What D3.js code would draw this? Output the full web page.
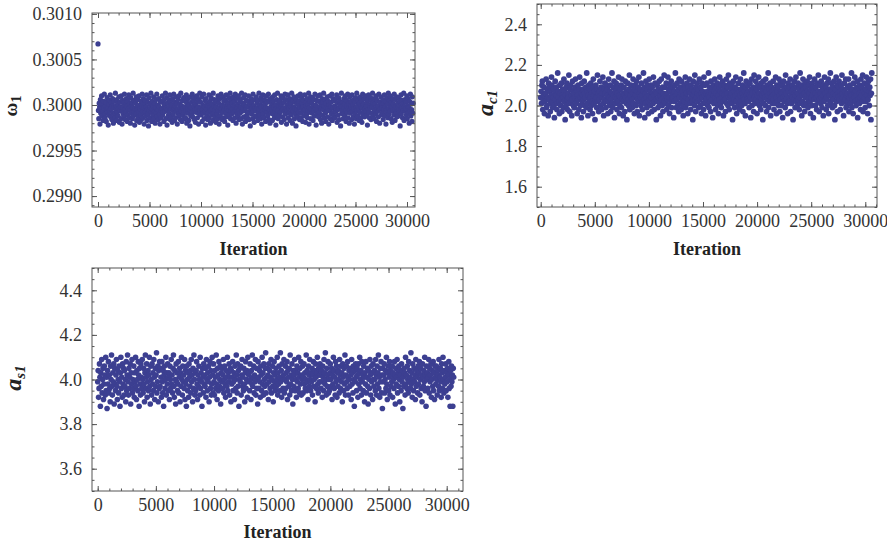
<!DOCTYPE html>
<html>
<head>
<meta charset="utf-8">
<script src="https://cdn.jsdelivr.net/npm/d3@7"></script>
<style>
  body { margin: 0; background: #fff; }
  svg { display: block; font-family: "Liberation Serif", "Times New Roman", serif; }
</style>
</head>
<body>
<svg id="chart" width="887" height="544"></svg>
<script>
// MCMC trace samples (thinned, evenly spaced in iteration)
const omega1 = [
  0.30067,0.29994,0.29985,0.30002,0.29998,0.29979,0.30006,0.29991,0.29996,0.30010,0.29988,0.30001,0.29993,0.29983,0.30004,0.29997,0.30012,0.29990,0.29986,0.29999,
  0.30003,0.29982,0.29995,0.30008,0.29992,0.29997,0.29978,0.30001,0.29989,0.30005,0.29994,0.30011,0.29987,0.29996,0.30002,0.29984,0.29999,0.30007,0.29991,0.29980,
  0.29997,0.30004,0.29990,0.29986,0.30013,0.29995,0.29999,0.29983,0.30006,0.29992,0.30001,0.29988,0.29996,0.30009,0.29981,0.29994,0.30003,0.29998,0.29985,0.30010,
  0.29993,0.29979,0.30005,0.29997,0.29990,0.30002,0.29987,0.30012,0.29995,0.29984,0.30000,0.29992,0.30007,0.29998,0.29982,0.30004,0.29989,0.29996,0.30011,0.29986,
  0.30001,0.29994,0.29980,0.30008,0.29991,0.29999,0.30003,0.29985,0.29997,0.30013,0.29988,0.29993,0.30005,0.29978,0.29996,0.30002,0.29990,0.30009,0.29983,0.29998,
  0.29995,0.30006,0.29987,0.29992,0.30010,0.29981,0.30000,0.29996,0.29989,0.30004,0.29984,0.29999,0.30012,0.29993,0.29986,0.30007,0.29997,0.29979,0.30002,0.29991,
  0.30005,0.29988,0.29998,0.30011,0.29983,0.29995,0.30003,0.29990,0.29977,0.30008,0.29994,0.30001,0.29986,0.29997,0.30013,0.29992,0.29982,0.30004,0.29996,0.29989,
  0.29999,0.30009,0.29985,0.29993,0.30002,0.29980,0.29997,0.30006,0.29991,0.30012,0.29987,0.29995,0.30000,0.29984,0.30007,0.29998,0.29990,0.29979,0.30004,0.29994,
  0.29986,0.30003,0.29996,0.30010,0.29989,0.29992,0.30005,0.29982,0.29999,0.30001,0.29993,0.30013,0.29985,0.29997,0.30008,0.29978,0.29995,0.30002,0.29988,0.30006,
  0.29991,0.29998,0.30011,0.29984,0.30004,0.29996,0.29987,0.30000,0.29981,0.30007,0.29994,0.29990,0.30012,0.29997,0.29983,0.30003,0.29999,0.29986,0.30009,0.29993,
  0.30002,0.29979,0.29995,0.30006,0.29990,0.30010,0.29988,0.29997,0.30001,0.29984,0.30013,0.29993,0.29999,0.29982,0.30005,0.29996,0.29989,0.30008,0.29992,0.29985,
  0.29998,0.30004,0.29986,0.29994,0.30011,0.29980,0.30002,0.29991,0.29996,0.30007,0.29983,0.30000,0.29995,0.29977,0.30009,0.29988,0.29997,0.30003,0.29990,0.30012,
  0.29987,0.29993,0.30005,0.29999,0.29984,0.30008,0.29995,0.29981,0.30001,0.29992,0.30010,0.29996,0.29986,0.30004,0.29998,0.29979,0.30006,0.29990,0.30013,0.29994,
  0.30003,0.29989,0.29997,0.30009,0.29982,0.29995,0.30000,0.29991,0.30012,0.29985,0.29998,0.30005,0.29993,0.29978,0.30007,0.29996,0.29988,0.30002,0.29984,0.29999,
  0.29992,0.30011,0.29986,0.29997,0.30004,0.29980,0.29994,0.30008,0.29989,0.30001,0.29996,0.29983,0.30013,0.29991,0.29999,0.30006,0.29987,0.29995,0.30003,0.29981,
  0.29998,0.30005,0.29990,0.29985,0.30010,0.29994,0.30002,0.29979,0.29997,0.30007,0.29988,0.29993,0.30012,0.29996,0.29984,0.30000,0.29992,0.30009,0.29986,0.30004,
  0.29995,0.29982,0.30006,0.29999,0.29991,0.30011,0.29987,0.29996,0.30003,0.29978,0.30001,0.29994,0.30008,0.29989,0.29998,0.30013,0.29985,0.29993,0.30005,0.29990,
  0.30002,0.29996,0.29983,0.30009,0.29992,0.29999,0.30004,0.29986,0.30012,0.29995,0.29980,0.30007,0.29997,0.29990,0.30001,0.29988,0.30010,0.29994,0.29984,0.30003,
  0.29991,0.30006,0.29998,0.29985,0.30013,0.29993,0.29979,0.30002,0.29996,0.30008,0.29987,0.30000,0.29994,0.30011,0.29982,0.29997,0.30005,0.29989,0.29999,0.29986,
  0.30004,0.29992,0.30010,0.29984,0.29998,0.30001,0.29977,0.29995,0.30007,0.29990,0.30003,0.29997,0.29985,0.30012,0.29993,0.29999,0.29981,0.30006,0.29996,0.29988,
  0.29994,0.30009,0.29987,0.30002,0.29997,0.29983,0.30005,0.29991,0.30013,0.29996,0.29989,0.30000,0.29985,0.30008,0.29998,0.29979,0.30004,0.29993,0.30011,0.29990,
  0.29999,0.29986,0.30006,0.29995,0.30001,0.29982,0.29997,0.30010,0.29992,0.30003,0.29988,0.29996,0.30012,0.29984,0.30005,0.29994,0.29980,0.30007,0.29998,0.29991,
  0.30002,0.29995,0.29983,0.30009,0.29990,0.30004,0.29997,0.29986,0.30011,0.29993,0.30000,0.29978,0.29996,0.30006,0.29989,0.30013,0.29994,0.29985,0.30003,0.29999,
  0.29988,0.30005,0.29992,0.29998,0.30010,0.29981,0.30001,0.29995,0.29987,0.30008,0.29996,0.30003,0.29984,0.29993,0.30012,0.29990,0.29997,0.30006,0.29979,0.30000,
  0.29994,0.30011,0.29986,0.30004,0.29997,0.29991,0.30007,0.29983,0.29999,0.30002,0.29989,0.30013,0.29995,0.29980,0.30005,0.29993,0.29998,0.30009,0.29985,0.29996,
  0.30003,0.29990,0.29977,0.30006,0.29995,0.30001,0.29987,0.30010,0.29992,0.29999,0.30004,0.29984,0.29997,0.30012,0.29991,0.29986,0.30008,0.29996,0.30002,0.29982,
  0.29998,0.30005,0.29993,0.29988,0.30011,0.29995,0.29981,0.30003,0.29999,0.29990,0.30007,0.29986,0.30001,0.29994,0.30013,0.29979,0.29997,0.30004,0.29992,0.30009,
  0.29985,0.29996,0.30002,0.29991,0.30008,0.29983,0.29999,0.30006,0.29994,0.29988,0.30012,0.29997,0.30000,0.29978,0.30005,0.29993,0.29990,0.30010,0.29995,0.29987,
  0.30004,0.29992,0.29998,0.30011,0.29984,0.30001,0.29996,0.29980,0.30007,0.29989,0.30003,0.29995,0.30013,0.29986,0.29999,0.30006,0.29991,0.29982,0.30002,0.29997,
  0.29993,0.30009,0.29987,0.29996,0.30004,0.29979,0.30000,0.29994,0.30010,0.29985,0.29998,0.30003,0.29990,0.30012,0.29983,0.29997,0.30007,0.29992,0.29988,0.30005,
  0.29999,0.29986,0.30006,0.29993,0.29997,0.30011,0.29981,0.30002,0.29995,0.29989,0.30008,0.29996,0.29984,0.30004,0.30000,0.29977,0.29998,0.30013,0.29991,0.29994,
  0.30003,0.29990,0.29985,0.30007,0.29997,0.30001,0.29988,0.30010,0.29994,0.29982,0.30005,0.29999,0.29992,0.30012,0.29986,0.29996,0.30002,0.29980,0.30009,0.29995,
  0.29991,0.30004,0.29998,0.29984,0.30011,0.29993,0.30000,0.29987,0.30006,0.29996,0.29979,0.30003,0.29990,0.30008,0.29997,0.29985,0.30013,0.29994,0.29999,0.29988,
  0.30005,0.29995,0.29983,0.30002,0.29992,0.30009,0.29998,0.29986,0.30004,0.29981,0.29997,0.30012,0.29990,0.30001,0.29994,0.30007,0.29987,0.29996,0.30010,0.29993,
  0.29999,0.30003,0.29989,0.29978,0.30006,0.29995,0.30011,0.29992,0.29986,0.30000,0.29997,0.30008,0.29984,0.30004,0.29991,0.29998,0.30013,0.29988,0.30002,0.29996,
  0.29985,0.30007,0.29994,0.30001,0.29990,0.30010,0.29982,0.29997,0.30005,0.29993,0.29999,0.29987,0.30012,0.29995,0.29980,0.30003,0.29996,0.30009,0.29989,0.30000,
  0.29997,0.29991,0.30006,0.29984,0.30002,0.29995,0.30011,0.29988,0.29998,0.30004,0.29979,0.29994,0.30008,0.29992,0.30001,0.29986,0.30013,0.29996,0.29990,0.30005,
  0.29993,0.30010,0.29999,0.29985,0.30003,0.29997,0.29981,0.30007,0.29994,0.30001,0.29989,0.30012,0.29995,0.29983,0.30006,0.29998,0.29991,0.30009,0.29987,0.29996,
  0.30002,0.29988,0.29995,0.30008,0.29992,0.30004,0.29977,0.29999,0.30011,0.29990,0.29997,0.30005,0.29986,0.30001,0.29994,0.30013,0.29983,0.29998,0.30006,0.29993,
  0.29996,0.30003,0.29989,0.30010,0.29985,0.29999,0.30007,0.29992,0.29997,0.29980,0.30004,0.29994,0.30012,0.29988,0.30001,0.29995,0.29982,0.30009,0.29991,0.30002
];

const ac1 = [
  2.04,2.07,2.01,2.10,2.12,1.98,2.03,2.05,2.09,1.96,2.02,2.06,2.06,2.13,1.99,2.00,2.08,2.04,1.95,2.11,
  2.03,2.09,2.07,1.97,2.01,2.05,2.14,2.10,2.02,1.99,2.04,2.08,2.00,1.94,2.06,2.12,2.03,2.05,2.09,1.98,
  2.01,2.16,2.07,2.04,2.02,1.96,2.10,2.06,2.00,2.03,2.11,1.97,2.05,2.08,2.04,1.99,2.13,2.02,2.07,1.93,
  2.05,2.00,2.09,2.11,2.03,1.98,2.06,2.04,2.15,2.01,1.97,2.08,2.10,2.02,2.05,1.95,2.03,2.12,2.07,2.00,
  2.06,1.99,2.04,2.09,2.13,2.02,2.01,2.07,1.96,2.05,2.10,2.03,1.98,2.08,2.14,2.04,2.00,2.06,1.94,2.11,
  2.02,2.05,2.08,1.97,2.03,2.12,2.06,2.00,2.04,2.09,1.99,2.16,2.07,2.01,1.95,2.05,2.10,2.03,2.08,1.98,
  2.04,2.11,2.00,2.06,2.02,1.96,2.09,2.13,2.05,2.01,2.07,1.93,2.03,2.10,2.04,1.99,2.08,2.15,2.02,2.06,
  1.97,2.03,2.07,2.12,2.00,2.05,2.09,1.98,2.04,2.06,2.14,2.01,1.95,2.08,2.03,2.11,2.06,1.99,2.02,2.10,
  2.05,2.08,1.96,2.02,2.13,2.04,2.00,2.07,2.10,1.97,2.03,2.06,2.16,2.01,1.99,2.09,2.05,2.12,1.94,2.04,
  2.07,2.01,2.11,2.03,1.98,2.06,2.09,2.02,2.14,2.05,1.96,2.00,2.08,2.04,2.10,1.99,2.13,2.03,2.06,1.95,
  2.02,2.09,2.05,1.97,2.12,2.04,2.07,2.01,1.93,2.06,2.11,2.03,2.00,2.08,2.15,1.98,2.05,2.02,2.10,2.07,
  2.03,1.99,2.06,2.13,2.01,2.08,1.96,2.04,2.10,2.05,2.00,2.12,2.07,1.97,2.03,2.09,2.02,2.14,1.95,2.06,
  2.08,2.04,2.00,2.11,2.05,1.98,2.02,2.07,2.16,2.03,2.09,1.94,2.06,2.01,2.12,2.04,1.99,2.08,2.10,2.02,
  1.96,2.05,2.13,2.03,2.07,2.00,2.10,2.04,1.97,2.09,2.06,2.01,2.14,2.05,1.98,2.02,2.11,2.07,2.03,1.93,
  2.06,2.10,2.02,1.99,2.08,2.04,2.12,2.01,2.05,1.95,2.07,2.13,2.03,2.00,2.09,1.97,2.06,2.04,2.15,2.02,
  2.09,2.01,2.05,2.11,1.98,2.06,2.03,2.14,2.00,2.08,2.04,1.96,2.10,2.07,2.02,2.12,1.99,2.05,2.03,2.09,
  2.04,1.94,2.07,2.02,2.10,2.16,2.05,1.99,2.03,2.11,2.06,2.00,2.08,1.97,2.13,2.04,2.01,2.09,2.06,1.98,
  2.12,2.03,2.07,2.00,1.95,2.05,2.10,2.02,2.08,2.14,1.99,2.04,2.06,2.11,2.01,1.96,2.09,2.03,2.07,2.13,
  2.01,2.06,1.98,2.10,2.04,2.08,2.02,1.93,2.12,2.05,2.07,2.00,2.15,2.03,1.97,2.09,2.04,2.11,2.06,2.02,
  2.08,1.99,2.05,2.13,2.03,2.00,2.09,2.06,1.96,2.11,2.04,2.07,2.01,1.98,2.14,2.05,2.10,2.02,1.95,2.06,
  2.03,2.11,2.07,2.00,2.05,2.16,1.99,2.04,2.09,2.02,1.97,2.12,2.06,2.03,2.08,1.94,2.05,2.10,2.01,2.07,
  2.13,2.04,1.98,2.06,2.02,2.09,2.11,2.00,2.05,1.96,2.08,2.03,2.14,2.07,2.01,2.10,1.99,2.04,2.06,2.12,
  2.02,1.95,2.08,2.05,2.10,2.03,1.97,2.07,2.13,2.01,2.06,2.09,2.00,2.15,2.04,1.98,2.11,2.05,2.02,2.08,
  2.06,2.10,2.01,1.93,2.04,2.12,2.07,2.03,1.99,2.09,2.05,2.14,2.02,1.96,2.08,2.06,2.00,2.11,2.04,2.07,
  1.98,2.05,2.13,2.02,2.08,2.00,2.06,2.10,1.97,2.04,2.16,2.03,2.07,2.01,1.95,2.09,2.12,2.05,2.03,2.06,
  2.10,2.02,2.07,1.99,2.05,2.11,2.04,1.94,2.08,2.13,2.00,2.06,2.03,2.09,1.97,2.15,2.04,2.01,2.07,2.12,
  2.03,2.08,1.96,2.05,2.10,2.02,2.14,2.06,2.00,2.04,2.09,1.98,2.11,2.03,2.07,2.05,1.93,2.12,2.01,2.06,
  2.09,2.04,2.00,2.13,2.07,1.97,2.03,2.10,2.05,2.16,1.99,2.08,2.02,2.06,2.11,1.95,2.04,2.09,2.07,2.01,
  2.05,2.12,2.03,1.98,2.08,2.06,2.01,2.14,2.04,1.96,2.10,2.07,2.02,2.09,2.00,2.13,2.05,1.97,2.03,2.11,
  2.07,2.00,2.06,2.10,1.94,2.04,2.12,2.08,2.02,2.05,1.99,2.15,2.06,2.03,2.09,2.01,1.96,2.11,2.07,2.04,
  2.02,2.09,2.13,1.97,2.05,2.01,2.07,2.10,2.04,1.93,2.08,2.03,2.12,2.06,1.99,2.05,2.14,2.02,2.09,2.00,
  2.06,2.11,2.03,2.08,1.98,2.04,2.16,2.01,2.07,2.10,1.95,2.05,2.02,2.13,2.08,2.00,2.06,1.97,2.11,2.04,
  2.09,2.01,2.05,2.12,2.07,1.99,2.03,2.10,2.06,2.14,2.02,1.96,2.08,2.04,2.00,2.11,2.05,2.09,1.94,2.07,
  2.03,2.13,2.06,2.00,2.09,2.04,1.98,2.11,2.05,2.02,2.15,2.07,1.97,2.03,2.10,2.06,2.01,2.12,2.04,1.99,
  2.08,2.05,1.95,2.10,2.02,2.14,2.06,2.03,2.09,1.98,2.04,2.11,2.07,2.00,2.13,1.96,2.05,2.08,2.02,2.16,
  2.01,2.07,2.11,2.04,1.99,2.09,2.03,2.06,2.12,2.00,1.93,2.08,2.05,2.14,2.02,2.10,1.97,2.06,2.04,2.09,
  2.12,2.03,2.07,1.98,2.05,2.10,2.01,2.15,2.06,2.04,2.08,1.95,2.02,2.11,2.07,2.03,2.13,1.99,2.05,2.00,
  2.06,2.09,2.02,2.13,1.97,2.04,2.10,2.07,2.01,2.05,2.16,1.99,2.08,2.03,1.96,2.11,2.06,2.04,2.14,2.02,
  2.07,2.00,2.05,2.09,2.12,1.94,2.03,2.08,2.06,2.01,2.10,2.04,1.98,2.13,2.05,2.09,2.02,2.15,1.97,2.07,
  2.04,2.11,2.06,1.99,2.08,2.02,2.14,2.05,2.10,1.96,2.03,2.12,2.07,2.00,2.09,2.05,2.13,1.93,2.06,2.16
];

const as1 = [
  3.99,4.04,3.92,3.96,4.07,4.01,3.88,4.03,3.97,4.09,3.94,4.00,4.05,3.91,3.98,4.06,4.02,3.93,4.10,3.95,
  4.01,3.87,4.04,3.98,4.08,3.94,4.02,3.96,3.90,4.06,4.00,4.11,3.97,3.93,4.03,3.99,4.07,3.89,4.05,3.98,
  3.95,4.02,4.09,3.97,3.91,4.04,4.00,3.94,4.06,3.99,3.88,4.03,4.10,3.96,4.01,3.92,4.07,3.98,4.05,3.93,
  4.04,3.97,4.00,3.90,4.08,3.95,4.02,4.11,3.99,3.93,4.05,3.96,4.01,4.07,3.89,4.03,3.98,4.09,3.94,4.00,
  3.96,4.06,3.92,4.03,3.99,4.10,3.97,3.91,4.04,4.00,3.95,4.08,4.02,3.88,4.05,3.98,3.93,4.07,4.01,3.96,
  4.09,4.00,3.94,4.05,3.98,3.90,4.03,4.11,3.96,4.01,4.07,3.92,3.99,4.04,3.95,4.02,4.10,3.97,3.89,4.06,
  4.00,3.93,4.07,3.98,4.03,3.95,4.09,4.01,3.91,4.05,3.97,4.02,4.12,3.94,3.99,4.06,3.90,4.04,3.96,4.08,
  3.97,4.05,4.01,3.92,4.08,3.99,3.94,4.04,3.88,4.02,4.06,3.96,4.00,4.10,3.93,4.03,3.98,4.07,3.95,4.01,
  4.03,3.91,4.06,4.00,3.96,4.09,3.98,4.02,3.94,4.05,4.11,3.97,3.92,4.04,4.00,3.89,4.07,3.99,4.03,3.95,
  3.98,4.08,3.94,4.01,4.05,3.90,4.03,3.97,4.10,4.00,3.93,4.06,3.99,4.02,3.96,4.09,3.91,4.04,3.98,3.88,
  4.06,4.00,3.95,4.03,3.92,4.07,4.01,3.97,4.04,3.94,4.09,3.99,4.02,3.90,4.05,3.96,4.11,4.00,3.93,4.03,
  3.95,4.04,4.08,3.98,3.91,4.02,3.97,4.06,4.00,3.93,4.10,3.96,4.03,3.99,3.88,4.05,4.01,3.94,4.07,3.98,
  4.02,3.97,4.05,3.92,4.09,4.00,3.95,4.03,3.99,4.06,3.90,4.01,4.08,3.96,4.04,3.93,3.98,4.10,4.02,3.94,
  4.07,3.99,3.93,4.04,4.01,3.96,4.11,3.98,3.91,4.05,4.02,3.95,4.08,3.97,4.00,4.06,3.89,4.03,3.99,4.05,
  3.96,4.02,4.09,3.94,4.00,4.06,3.98,3.92,4.04,4.01,3.97,4.10,3.95,4.03,3.99,4.07,3.93,4.01,4.05,3.90,
  4.04,3.98,4.01,4.08,3.95,3.99,4.03,3.91,4.06,4.00,3.96,4.11,4.02,3.94,4.07,3.97,4.04,3.88,4.00,4.05,
  3.99,4.06,3.93,4.02,4.09,3.97,4.01,3.95,4.05,3.98,3.90,4.03,4.08,3.96,4.00,4.04,3.92,4.10,3.99,4.02,
  4.03,3.95,4.07,4.00,3.91,4.04,3.98,4.11,3.97,4.01,4.06,3.94,4.02,3.99,4.09,3.93,4.05,3.96,4.00,3.89,
  4.08,4.01,3.96,4.04,3.99,3.92,4.06,4.02,3.95,4.10,3.98,4.03,3.93,4.07,4.00,3.97,4.05,4.12,3.94,4.01,
  3.98,4.05,4.02,3.91,4.07,3.99,4.04,3.96,4.01,4.09,3.94,4.00,4.06,3.97,3.90,4.03,4.08,3.99,4.02,3.95,
  4.05,3.97,4.00,4.10,3.93,4.03,3.98,4.06,4.01,3.95,4.12,3.99,4.04,3.92,4.07,4.00,3.96,4.02,4.09,3.94,
  4.00,4.06,3.96,4.03,3.99,4.08,3.91,4.04,4.01,3.97,4.05,3.93,4.11,3.98,4.02,3.95,4.07,4.00,3.89,4.04,
  3.97,4.02,4.09,3.95,4.04,4.00,3.92,4.06,3.99,4.03,3.96,4.10,4.01,3.94,4.05,3.98,4.08,3.93,4.02,4.00,
  4.06,3.94,4.01,4.07,3.98,4.03,3.96,4.00,4.11,3.95,4.04,3.99,3.91,4.06,4.02,3.97,4.09,4.00,3.95,4.03,
  3.99,4.05,3.93,4.02,4.08,3.97,4.00,4.04,3.90,4.07,4.01,3.96,4.03,4.10,3.98,3.94,4.05,4.02,3.99,4.07,
  4.02,3.96,4.04,3.99,3.92,4.06,4.01,3.95,4.09,4.03,3.98,4.12,4.00,3.93,4.05,3.97,4.02,4.08,3.94,4.00,
  3.95,4.03,4.07,4.00,3.97,4.05,3.91,4.02,3.98,4.10,4.04,3.96,4.01,3.93,4.08,3.99,4.06,3.92,4.03,3.97,
  4.04,4.00,3.94,4.09,4.02,3.96,4.06,3.99,4.03,3.90,4.07,4.01,3.95,4.05,3.98,4.11,3.93,4.02,4.06,3.99,
  3.96,4.08,4.01,3.93,4.04,4.00,3.97,4.05,4.02,3.91,4.09,3.98,4.03,3.94,4.06,4.00,3.88,4.04,3.99,4.07,
  4.01,3.95,4.05,4.02,3.92,4.07,3.98,4.03,4.10,3.96,4.00,4.04,3.93,4.08,3.99,4.02,3.95,4.06,4.01,3.90,
  4.03,3.98,4.08,3.94,4.01,4.05,3.97,3.89,4.04,4.00,3.96,4.09,4.02,3.93,4.06,3.99,4.03,3.91,4.07,4.00,
  3.97,4.04,4.00,3.95,4.09,4.02,3.93,4.06,3.98,4.03,4.11,3.96,4.01,3.92,4.05,3.99,4.08,3.94,4.02,3.87,
  4.05,3.99,4.02,4.07,3.94,4.00,4.04,3.96,4.10,3.98,3.91,4.03,4.06,3.95,4.01,4.08,3.93,4.04,3.97,4.02,
  3.99,4.06,3.92,4.03,4.00,3.96,4.08,4.02,3.89,4.05,3.98,4.01,4.09,3.94,4.03,3.97,4.06,4.00,3.90,4.04,
  4.02,3.95,4.07,3.99,4.04,3.87,4.01,3.97,4.05,4.03,3.93,4.10,3.98,4.02,3.96,4.06,4.00,3.94,4.08,3.99,
  4.04,4.01,3.96,4.12,3.98,4.03,3.92,4.07,4.00,3.95,4.05,3.99,4.02,3.91,4.09,3.97,4.04,4.01,3.94,4.06,
  3.98,4.03,4.08,3.93,4.00,4.05,3.96,4.02,3.90,4.07,4.01,3.97,4.04,3.99,4.10,3.95,4.02,3.88,4.06,4.00,
  4.03,3.96,4.01,4.09,3.94,4.05,3.99,4.02,4.07,3.92,4.00,4.04,3.97,4.08,3.95,4.03,3.91,4.06,4.01,3.98,
  4.06,4.00,3.93,4.04,4.02,3.97,4.09,3.95,4.01,4.05,3.99,3.92,4.07,4.03,3.96,4.10,4.00,3.94,4.04,3.98,
  4.01,4.07,3.95,4.03,3.99,4.05,3.92,4.02,4.08,3.96,4.00,3.88,4.04,3.97,4.06,3.99,4.02,3.88,4.05,4.01
];

// last sampled iteration (samples are evenly spread from 0 to this)
const lastIteration = 30600;

const iterationTicks = [0, 5000, 10000, 15000, 20000, 25000, 30000];
const omega1Ticks = [0.2990, 0.2995, 0.3000, 0.3005, 0.3010];
const ac1Ticks = [1.6, 1.8, 2.0, 2.2, 2.4];
const as1Ticks = [3.6, 3.8, 4.0, 4.2, 4.4];

const pointColor = "#3c3f91";
const frameColor = "#555";
const textColor = "#333";

const panels = [
  {
    values: omega1, yTicks: omega1Ticks, yMinor: 0.0001, yFormat: ".4f",
    yDomain: [0.29888, 0.30101], xDomain: [-583, 30777],
    left: 92, right: 415, top: 13, bottom: 207, r: 2.6,
    title: { base: "ω", sub: "1", italic: false, x: 17, y: 106 },
    xTitleY: 255
  },
  {
    values: ac1, yTicks: ac1Ticks, yMinor: 0.05, yFormat: ".1f",
    yDomain: [1.5, 2.5], xDomain: [-343, 31083],
    left: 537, right: 877, top: 4, bottom: 207, r: 2.9,
    title: { base: "a", sub: "c1", italic: true, x: 493, y: 103 },
    xTitleY: 255
  },
  {
    values: as1, yTicks: as1Ticks, yMinor: 0.05, yFormat: ".1f",
    yDomain: [3.5, 4.5], xDomain: [-490, 31401],
    left: 92, right: 463, top: 268, bottom: 491, r: 2.8,
    title: { base: "a", sub: "s1", italic: true, x: 21, y: 378 },
    xTitleY: 538
  }
];

const svg = d3.select("#chart");

function minorValues(domain, step) {
  const lo = Math.ceil(domain[0] / step - 1e-9);
  const hi = Math.floor(domain[1] / step + 1e-9);
  return d3.range(lo, hi + 1).map(k => +(k * step).toFixed(8));
}

function styleAxis(g) {
  g.select(".domain").remove();
  g.selectAll(".tick line").attr("stroke", frameColor).attr("stroke-width", 1);
  g.selectAll("text")
    .attr("fill", textColor)
    .attr("font-size", 18)
    .attr("font-family", "Liberation Serif, Times New Roman, serif");
}

panels.forEach(p => {

  const g = svg.append("g");

  const x = d3.scaleLinear().domain(p.xDomain).range([p.left, p.right]);
  const y = d3.scaleLinear().domain(p.yDomain).range([p.bottom, p.top]);

  const step = lastIteration / (p.values.length - 1);

  // samples
  g.append("g")
    .selectAll("circle")
    .data(p.values)
    .join("circle")
    .attr("cx", (d, i) => x(i * step))
    .attr("cy", d => y(d))
    .attr("r", p.r)
    .attr("fill", pointColor);

  const xMinor = minorValues(p.xDomain, 1000);
  const yMinor = minorValues(p.yDomain, p.yMinor);

  // bottom
  g.append("g")
    .attr("transform", `translate(0,${p.bottom})`)
    .call(d3.axisBottom(x).tickValues(xMinor).tickSize(-2.5).tickFormat(""))
    .call(styleAxis);
  g.append("g")
    .attr("transform", `translate(0,${p.bottom})`)
    .call(d3.axisBottom(x).tickValues(iterationTicks).tickSize(-5).tickPadding(7).tickFormat(d3.format("d")))
    .call(styleAxis);

  // top
  g.append("g")
    .attr("transform", `translate(0,${p.top})`)
    .call(d3.axisTop(x).tickValues(xMinor).tickSize(-2.5).tickFormat(""))
    .call(styleAxis);
  g.append("g")
    .attr("transform", `translate(0,${p.top})`)
    .call(d3.axisTop(x).tickValues(iterationTicks).tickSize(-5).tickFormat(""))
    .call(styleAxis);

  // left
  g.append("g")
    .attr("transform", `translate(${p.left},0)`)
    .call(d3.axisLeft(y).tickValues(yMinor).tickSize(-2.5).tickFormat(""))
    .call(styleAxis);
  g.append("g")
    .attr("transform", `translate(${p.left},0)`)
    .call(d3.axisLeft(y).tickValues(p.yTicks).tickSize(-5).tickPadding(10).tickFormat(d3.format(p.yFormat)))
    .call(styleAxis);

  // right
  g.append("g")
    .attr("transform", `translate(${p.right},0)`)
    .call(d3.axisRight(y).tickValues(yMinor).tickSize(-2.5).tickFormat(""))
    .call(styleAxis);
  g.append("g")
    .attr("transform", `translate(${p.right},0)`)
    .call(d3.axisRight(y).tickValues(p.yTicks).tickSize(-5).tickFormat(""))
    .call(styleAxis);

  // frame
  g.append("rect")
    .attr("x", p.left)
    .attr("y", p.top)
    .attr("width", p.right - p.left)
    .attr("height", p.bottom - p.top)
    .attr("fill", "none")
    .attr("stroke", frameColor)
    .attr("stroke-width", 1);

  // x title
  g.append("text")
    .attr("x", (p.left + p.right) / 2)
    .attr("y", p.xTitleY)
    .attr("text-anchor", "middle")
    .attr("font-size", 18)
    .attr("font-weight", "bold")
    .attr("fill", "#222")
    .text("Iteration");

  // y title
  const t = p.title;
  const yt = g.append("text")
    .attr("transform", `translate(${t.x},${t.y}) rotate(-90)`)
    .attr("text-anchor", "middle")
    .attr("font-weight", "bold")
    .attr("fill", "#222");
  yt.append("tspan")
    .attr("font-size", t.italic ? 24 : 19)
    .attr("font-style", t.italic ? "italic" : "normal")
    .text(t.base);
  yt.append("tspan")
    .attr("font-size", t.italic ? 15 : 14)
    .attr("font-style", t.italic ? "italic" : "normal")
    .attr("dy", 4)
    .text(t.sub);
});
</script>
</body>
</html>
